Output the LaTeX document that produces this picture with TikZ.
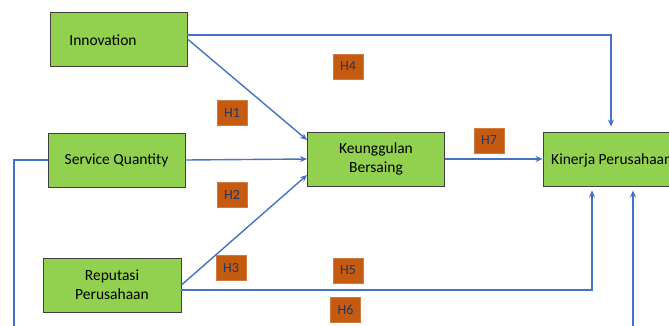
\documentclass[tikz,border=0pt]{standalone}
\usepackage{fontspec}
\setmainfont{Carlito}
\usetikzlibrary{arrows.meta,calc}
\definecolor{boxgreen}{HTML}{92D050}
\definecolor{boxedge}{HTML}{404040}
\definecolor{hfill}{HTML}{C55A11}
\definecolor{htext}{HTML}{1F3864}
\definecolor{linkblue}{HTML}{4472C4}
\begin{document}
\begin{tikzpicture}[x=1pt,y=-1pt,
  varbox/.style={draw=boxedge,line width=0.9pt,fill=boxgreen,minimum width=137pt,minimum height=54pt,inner sep=0pt,font=\fontsize{15.5}{19}\selectfont,align=center},
  hyp/.style={fill=hfill,draw=hfill!80!white,line width=0.4pt,minimum width=30pt,minimum height=25pt,inner sep=0pt,text=htext,font=\fontsize{14}{16}\selectfont},
  link/.style={draw=linkblue,line width=1.4pt,-{Stealth[length=7pt,width=6pt]}},
  plain/.style={draw=linkblue,line width=1.4pt}]
\useasboundingbox (0,0) rectangle (669,325);
\begin{scope}
\clip (0,0) rectangle (669,325);
\node[varbox] (inn) at (118.5,39) {};
\node[font=\fontsize{15.5}{19}\selectfont] (inntxt) at (103,40) {Innovation};
\node[varbox] (srv) at (116.5,160) {Service Quantity};
\node[varbox,minimum width=138pt] (rep) at (112,285) {Reputasi\\Perusahaan};
\node[varbox] (kea) at (376,159) {Keunggulan\\Bersaing};
\node[varbox,minimum width=146pt] (kin) at (616,159) {};
\node[anchor=west,inner sep=0pt,font=\fontsize{15.5}{19}\selectfont] (kintxt) at (551,160) {Kinerja Perusahaan};
\coordinate (c1) at (14,160);
\coordinate (c2) at (14,345);
\coordinate (c3) at (633,345);
\draw[link,shorten >=5pt] ([yshift=4pt]inn.east) -| ([xshift=-5pt]kin.north);
\draw[link] (inn.east) -- ([yshift=19pt]kea.west);
\draw[link] (srv.east) -- (kea.west);
\draw[link] (rep.east) -- ([yshift=-16pt]kea.west);
\draw[link,shorten >=4pt] ([yshift=-5pt]rep.east) -| ([xshift=-24pt]kin.south);
\draw[link,shorten >=4pt] (srv.west) -- (c1) -- (c2) -- (c3) -- (c3 |- kin.south);
\draw[link] (kea.east) -- (kin.west);
\node[hyp] (h4) at (348,66.5) {H4};
\node[hyp] (h1) at (232,112.5) {H1};
\node[hyp] (h2) at (232,194.5) {H2};
\node[hyp] (h3) at (231,268) {H3};
\node[hyp] (h7) at (489,140.5) {H7};
\node[hyp] (h5) at (348,270.5) {H5};
\node[hyp] (h6) at (345.5,310) {H6};
\end{scope}
\end{tikzpicture}
\end{document}
